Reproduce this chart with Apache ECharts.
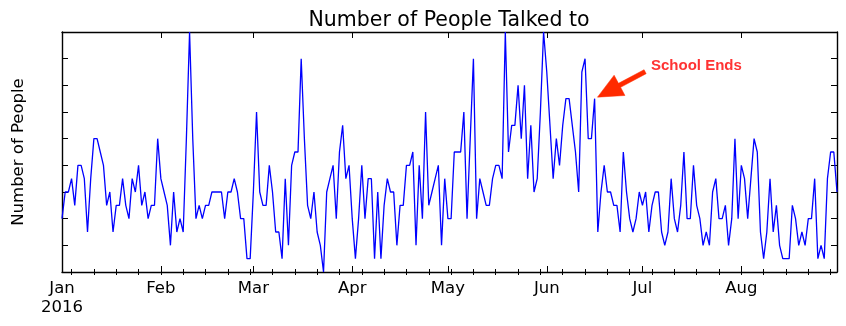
<!DOCTYPE html>
<html>
<head>
<meta charset="utf-8">
<script src="https://cdn.jsdelivr.net/npm/echarts@6/dist/echarts.min.js"></script>
<style>
  html, body { margin: 0; padding: 0; background: #ffffff; }
  #chart { width: 846px; height: 326px; }
</style>
</head>
<body>
<div id="chart"></div>
<script>
// Daily count of people talked to, 1 Jan 2016 onwards (one value per day)
const startDate = '2016-01-01';
const talked = [
  4, 6, 6, 7, 5, 8, 8, 7, 3, 7, 10, 10, 9, 8, 5, 6, 3, 5, 5, 7, 5, 4, 7, 6, 8, 5, 6, 4, 5, 5, 10,   // Jan
  7, 6, 5, 2, 6, 3, 4, 3, 10, 18, 10, 4, 5, 4, 5, 5, 6, 6, 6, 6, 4, 6, 6, 7, 6, 4, 4, 1, 1,         // Feb
  6, 12, 6, 5, 5, 8, 6, 3, 3, 1, 7, 2, 8, 9, 9, 16, 10, 5, 4, 6, 3, 2, 0, 6, 7, 8, 4, 9, 11, 7, 8,  // Mar
  4, 1, 4, 8, 4, 7, 7, 1, 6, 1, 5, 7, 6, 6, 2, 5, 5, 8, 8, 9, 2, 8, 4, 12, 5, 6, 7, 8, 2, 7,        // Apr
  4, 4, 9, 9, 9, 12, 4, 10, 16, 4, 7, 6, 5, 5, 7, 8, 8, 7, 18, 9, 11, 11, 14, 10, 14, 7, 11, 6, 7, 12, 18, // May
  15, 11, 7, 10, 8, 11, 13, 13, 11, 9, 6, 15, 16, 10, 10, 13, 3, 6, 8, 6, 6, 5, 5, 3, 9, 6, 4, 3, 4, 6, // Jun
  5, 6, 3, 5, 6, 6, 3, 2, 3, 7, 4, 3, 5, 9, 4, 4, 8, 5, 4, 2, 3, 2, 6, 7, 4, 4, 5, 2, 4, 10, 4,     // Jul
  8, 7, 4, 7, 10, 9, 3, 1, 3, 7, 3, 5, 2, 1, 1, 1, 5, 4, 2, 3, 2, 4, 4, 7, 1, 2, 1, 7, 9, 9, 6      // Aug
];
const monthNames = ['Jan', 'Feb', 'Mar', 'Apr', 'May', 'Jun', 'Jul', 'Aug'];
const yearLabel = '2016';
const yMin = 0, yMax = 18, yStep = 2;

// Annotation: arrow points at the day school ended, text sits a little later
const noteText = 'School Ends';
const notePoint = ['2016-06-16', 13];
const noteTextAt = ['2016-07-04', 15];

// One category per day
const days = [];
const weekday = [];
{
  const t0 = Date.parse(startDate + 'T00:00:00Z');
  for (let i = 0; i < talked.length; i++) {
    const d = new Date(t0 + i * 86400000);
    days.push(d.toISOString().slice(0, 10));
    weekday.push(d.getUTCDay());
  }
}
const isMonthStart = (i, v) => v.slice(8, 10) === '01';
const isMonday = (i) => weekday[i] === 1;
const monthLabel = (v) => {
  const m = parseInt(v.slice(5, 7), 10) - 1;
  return m === 0 ? monthNames[m] + '\n' + yearLabel : monthNames[m];
};

const font = 'DejaVu Sans';
const axisLine = { show: true, onZero: false, lineStyle: { color: '#000', width: 1.4 } };

function tickAxis(position, major, withLabels) {
  return {
    type: 'category',
    data: days,
    boundaryGap: false,
    position: position,
    axisLine: major ? axisLine : { show: false },
    axisTick: {
      show: true,
      inside: true,
      length: major ? 6 : 3,
      interval: major ? isMonthStart : isMonday,
      lineStyle: { color: '#000', width: 1 }
    },
    axisLabel: withLabels ? {
      show: true,
      interval: isMonthStart,
      formatter: monthLabel,
      color: '#000',
      fontFamily: font,
      fontSize: 16.5,
      lineHeight: 19,
      margin: 7
    } : { show: false },
    splitLine: { show: false }
  };
}

function valueAxis(position, withName) {
  const ax = {
    type: 'value',
    position: position,
    min: yMin,
    max: yMax,
    interval: yStep,
    axisLine: axisLine,
    axisTick: { show: true, inside: true, length: 6, lineStyle: { color: '#000', width: 1 } },
    axisLabel: { show: false },
    splitLine: { show: false }
  };
  if (withName) {
    Object.assign(ax, {
      name: 'Number of People',
      nameLocation: 'middle',
      nameGap: 35,
      nameTextStyle: { color: '#000', fontFamily: font, fontSize: 16.5 }
    });
  }
  return ax;
}

const chart = echarts.init(document.getElementById('chart'), null, { renderer: 'canvas' });
chart.setOption({
  animation: false,
  backgroundColor: '#ffffff',
  title: {
    text: 'Number of People Talked to',
    left: 444,
    textAlign: 'center',
    top: 5,
    textStyle: { color: '#000', fontFamily: font, fontSize: 20.5, fontWeight: 'normal' }
  },
  grid: { left: 62, right: 9, top: 32, bottom: 54, containLabel: false },
  xAxis: [
    tickAxis('bottom', true, true),
    tickAxis('bottom', false, false),
    tickAxis('top', true, false),
    tickAxis('top', false, false)
  ],
  yAxis: [valueAxis('left', true), valueAxis('right', false)],
  series: [{
    type: 'line',
    data: talked,
    xAxisIndex: 0,
    yAxisIndex: 0,
    showSymbol: false,
    symbol: 'none',
    lineStyle: { color: '#0000ff', width: 1.3 },
    itemStyle: { color: '#0000ff' }
  }]
});

// Arrow + text placed through the axes' own scales
function drawNote() {
  const toPx = (p) => chart.convertToPixel({ xAxisIndex: 0, yAxisIndex: 0 }, [days.indexOf(p[0]), p[1]]);
  const a = toPx(notePoint);
  const t = toPx(noteTextAt);
  const anchor = [t[0], t[1] - 4];
  const dx = anchor[0] - a[0], dy = anchor[1] - a[1];
  const tip = [a[0] + 0.05 * dx, a[1] + 0.05 * dy];
  const tail = [a[0] + 0.88 * dx, a[1] + 0.88 * dy];
  const len = Math.hypot(tail[0] - tip[0], tail[1] - tip[1]);
  const ux = (tail[0] - tip[0]) / len, uy = (tail[1] - tip[1]) / len;
  const nx = -uy, ny = ux;
  const headLen = 25, headW = 23, shaftW = 4.5;
  const hb = [tip[0] + ux * headLen, tip[1] + uy * headLen];
  const pts = [
    tip,
    [hb[0] + nx * headW / 2, hb[1] + ny * headW / 2],
    [hb[0] + nx * shaftW / 2, hb[1] + ny * shaftW / 2],
    [tail[0] + nx * shaftW / 2, tail[1] + ny * shaftW / 2],
    [tail[0] - nx * shaftW / 2, tail[1] - ny * shaftW / 2],
    [hb[0] - nx * shaftW / 2, hb[1] - ny * shaftW / 2],
    [hb[0] - nx * headW / 2, hb[1] - ny * headW / 2]
  ];
  chart.setOption({
    graphic: [
      { type: 'polygon', shape: { points: pts }, style: { fill: '#ff2a00', stroke: '#ff2a00', lineWidth: 0.5 }, z: 10 },
      { type: 'text', x: t[0] - 1, y: t[1] + 1, style: { text: noteText, fill: '#ff3333', font: 'bold 15px "Liberation Sans", Arial, sans-serif', align: 'left', verticalAlign: 'bottom' }, z: 10 }
    ]
  });
}
drawNote();
</script>
</body>
</html>
